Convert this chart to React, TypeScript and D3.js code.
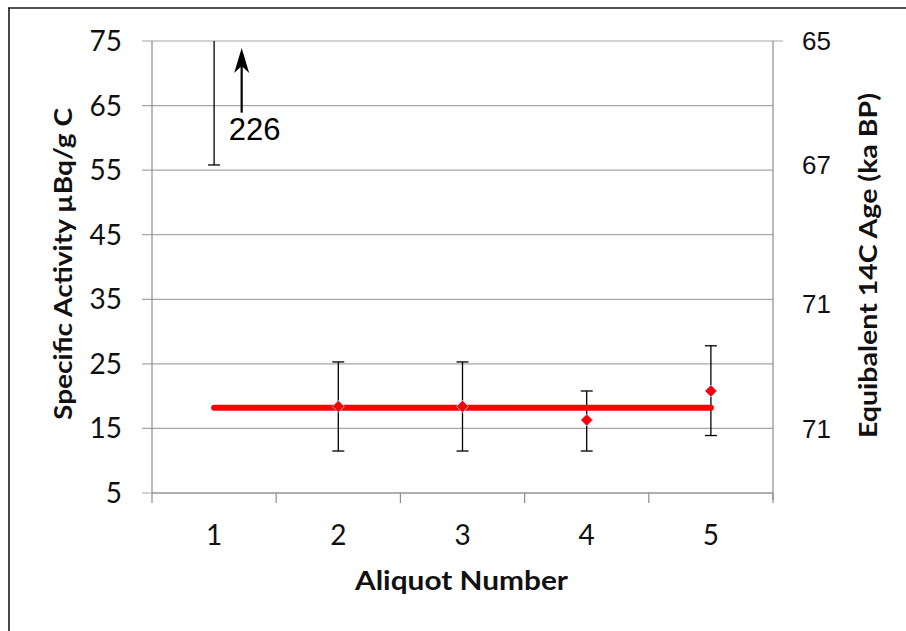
import React from "react";
import * as d3 from "d3";

// Aliquot measurements (specific activity, µBq/g C) with error bar limits
const aliquots = ["1", "2", "3", "4", "5"];
const activity = [226, 18.4, 18.4, 16.3, 20.8];
const errLow = [55.8, 11.5, 11.5, 11.5, 13.9];
const errHigh = [396.2, 25.3, 25.3, 20.8, 27.8];

// Weighted mean of aliquots 2-5, drawn across the full series
const meanActivity = 18.2;

// Left axis ticks
const leftTicks = [5, 15, 25, 35, 45, 55, 65, 75];

// Right axis: equivalent 14C age labels and the activity level each sits at
const rightTickLabels = ["65", "67", "71", "71"];
const rightTickAt = [75, 55.8, 34.3, 14.9];

// Off-scale arrow for aliquot 1 (activity range covered by the arrow)
const arrowFrom = 63.9;
const arrowTo = 73.9;

const W = 906;
const H = 631;
const plot = { left: 152, right: 773, top: 41, bottom: 493 };

const gridColor = "#a6a6a6";
const axisColor = "#8c8c8c";
const labelFont = "Lato, 'Open Sans', sans-serif";

export default function App() {
  const x = d3
    .scaleBand<string>()
    .domain(aliquots)
    .range([plot.left, plot.right]);
  const cx = (c: string) => (x(c) ?? 0) + x.bandwidth() / 2;
  const y = d3.scaleLinear().domain([5, 75]).range([plot.bottom, plot.top]);

  const meanLine = d3
    .line<string>()
    .x((c) => cx(c))
    .y(() => y(meanActivity));

  const diamond = d3.symbol().type(d3.symbolSquare).size(72)();

  const capHalf = 6;
  const arrowX = cx(aliquots[0]) + x.bandwidth() * 0.222;
  const tipY = y(arrowTo);

  return (
    <svg
      width={W}
      height={H}
      style={{ position: "absolute", left: 0, top: 0, background: "#ffffff" }}
    >
      <defs>
        <clipPath id="plot-clip">
          <rect
            x={plot.left - 20}
            y={plot.top}
            width={plot.right - plot.left + 40}
            height={plot.bottom - plot.top + 20}
          />
        </clipPath>
      </defs>

      {/* chart frame */}
      <line x1={8} y1={8} x2={W} y2={8} stroke="#1a1a1a" strokeWidth={1.6} />
      <line x1={9} y1={8} x2={9} y2={H} stroke="#1a1a1a" strokeWidth={1.6} />

      {/* horizontal gridlines with left ticks */}
      {leftTicks.map((t) => (
        <line
          key={"g" + t}
          x1={plot.left - 10}
          x2={t === 75 ? plot.right + 10 : plot.right}
          y1={y(t)}
          y2={y(t)}
          stroke={gridColor}
          strokeWidth={1.2}
        />
      ))}

      {/* axis lines */}
      <line x1={plot.left} x2={plot.left} y1={plot.top} y2={plot.bottom} stroke={axisColor} strokeWidth={1.2} />
      <line x1={plot.right} x2={plot.right} y1={plot.top} y2={plot.bottom + 7} stroke={axisColor} strokeWidth={1.2} />
      <line x1={plot.left} x2={plot.right} y1={plot.bottom} y2={plot.bottom} stroke={axisColor} strokeWidth={1.2} />

      {/* category boundary ticks */}
      {aliquots.map((c) => x(c) ?? 0).concat([plot.right]).map((bx, i) => (
        <line
          key={"xt" + i}
          x1={bx}
          x2={bx}
          y1={plot.bottom}
          y2={plot.bottom + 10}
          stroke={axisColor}
          strokeWidth={1.2}
        />
      ))}

      {/* left tick labels */}
      {leftTicks.map((t) => (
        <text
          key={"lt" + t}
          x={122}
          y={y(t) + 10}
          textAnchor="end"
          fontFamily={labelFont}
          fontSize={28}
          fill="#111"
        >
          {t}
        </text>
      ))}

      {/* right tick labels */}
      {rightTickLabels.map((lab, i) => (
        <text
          key={"rt" + i}
          x={802}
          y={y(rightTickAt[i]) + 9}
          fontFamily="'Liberation Sans', Arial, sans-serif"
          fontSize={26}
          fill="#111"
        >
          {lab}
        </text>
      ))}

      {/* category labels */}
      {aliquots.map((c) => (
        <text
          key={"xl" + c}
          x={cx(c)}
          y={545}
          textAnchor="middle"
          fontFamily={labelFont}
          fontSize={28}
          fill="#111"
        >
          {c}
        </text>
      ))}

      {/* axis titles */}
      <text
        x={461.5}
        y={590}
        textAnchor="middle"
        fontFamily={labelFont}
        fontWeight="bold"
        fontSize={26}
        textLength={213}
        lengthAdjust="spacingAndGlyphs"
        fill="#111"
      >
        Aliquot Number
      </text>
      <text
        transform={`translate(72,264) rotate(-90)`}
        textAnchor="middle"
        fontFamily={labelFont}
        fontWeight="bold"
        fontSize={25}
        textLength={312}
        lengthAdjust="spacingAndGlyphs"
        fill="#111"
      >
        Specific Activity µBq/g C
      </text>
      <text
        transform={`translate(877,265.5) rotate(-90)`}
        textAnchor="middle"
        fontFamily={labelFont}
        fontWeight="bold"
        fontSize={25}
        textLength={345}
        lengthAdjust="spacingAndGlyphs"
        fill="#111"
      >
        Equibalent 14C Age (ka BP)
      </text>

      <g clipPath="url(#plot-clip)">
        {/* error bars */}
        {aliquots.map((c, i) => {
          const px = cx(c);
          const lo = y(errLow[i]);
          const hi = y(errHigh[i]);
          return (
            <g key={"eb" + c} stroke="#000" strokeWidth={1.3}>
              <line x1={px} x2={px} y1={lo} y2={Math.max(hi, plot.top)} />
              <line x1={px - capHalf} x2={px + capHalf} y1={lo} y2={lo} />
              {hi >= plot.top && (
                <line x1={px - capHalf} x2={px + capHalf} y1={hi} y2={hi} />
              )}
            </g>
          );
        })}

        {/* mean line */}
        <path
          d={meanLine(aliquots) ?? ""}
          fill="none"
          stroke="#ff0000"
          strokeWidth={6}
          strokeLinecap="round"
        />

        {/* markers */}
        {aliquots.map((c, i) =>
          activity[i] <= 75 ? (
            <path
              key={"m" + c}
              d={diamond ?? ""}
              transform={`translate(${cx(c)},${y(activity[i])}) rotate(45)`}
              fill="#ff0000"
              stroke="#a9bde6"
              strokeWidth={0.9}
            />
          ) : null
        )}
      </g>

      {/* off-scale annotation for aliquot 1 */}
      <line
        x1={arrowX}
        x2={arrowX}
        y1={y(arrowFrom)}
        y2={tipY + 10}
        stroke="#000"
        strokeWidth={2.2}
      />
      <path
        d={`M${arrowX},${tipY} L${arrowX + 7.5},${tipY + 25} L${arrowX},${tipY + 18} L${arrowX - 7.5},${tipY + 25} Z`}
        fill="#000"
      />
      <text
        x={arrowX - 13}
        y={y(arrowFrom) + 27}
        fontFamily="'Liberation Sans', Arial, sans-serif"
        fontSize={31}
        fill="#000"
      >
        {activity[0]}
      </text>
    </svg>
  );
}
